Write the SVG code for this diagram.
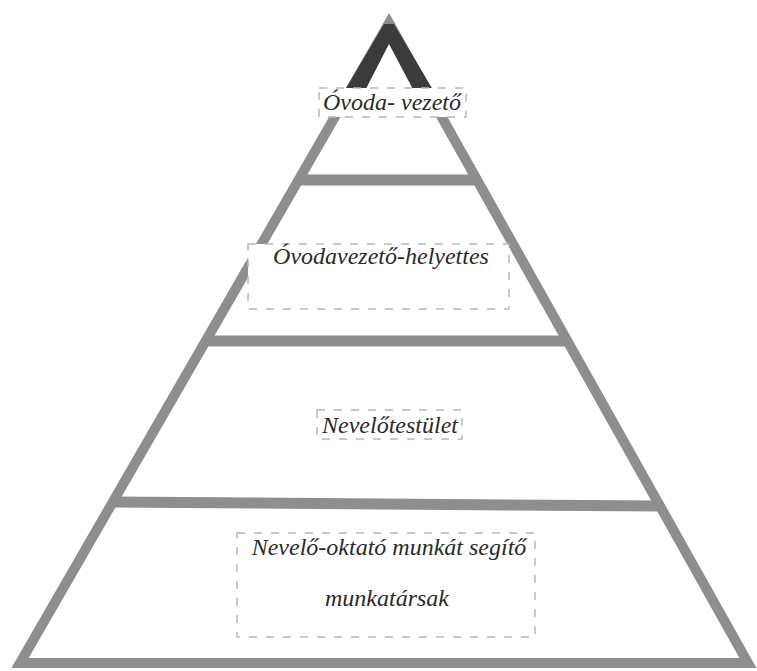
<svg xmlns="http://www.w3.org/2000/svg" width="757" height="671" viewBox="0 0 757 671">
<style>
.edge{fill:none;stroke:#8e8e8e;stroke-width:10;stroke-linejoin:miter;stroke-miterlimit:10}
.bar{stroke:#8e8e8e;stroke-width:11;stroke-linecap:butt}
.box{fill:#ffffff;stroke:#b8b8b8;stroke-width:1.5;stroke-dasharray:8 9}
.lbl{font-family:"Liberation Serif","Times New Roman",serif;font-style:italic;font-size:24px;fill:#2a2a2a;text-anchor:middle}
</style>
<rect width="757" height="671" fill="#ffffff"/>
<g id="connectors">
<polygon class="edge" points="389,23 748,663 20,663"/>
<line class="bar" x1="298" y1="180" x2="477" y2="180"/>
<line class="bar" x1="205" y1="341" x2="567" y2="341"/>
<line class="bar" x1="112" y1="502" x2="660" y2="506"/>
<polygon fill="#3b3b3b" points="332,112 384,24 394,24 446,112 425,112 389,44 354,112"/>
</g>
<g id="node-ovodavezeto">
<rect class="box" x="319" y="88" width="147" height="29"/>
<text class="lbl" x="392" y="110">Óvoda- vezető</text>
</g>
<g id="node-helyettes">
<rect class="box" x="248" y="244" width="261" height="65"/>
<text class="lbl" x="381" y="264">Óvodavezető-helyettes</text>
</g>
<g id="node-nevelotestulet">
<rect class="box" x="317" y="410" width="145" height="29"/>
<text class="lbl" x="390" y="433">Nevelőtestület</text>
</g>
<g id="node-munkatarsak">
<rect class="box" x="237" y="533" width="298" height="104"/>
<text class="lbl" x="389" y="555">Nevelő-oktató munkát segítő</text>
<text class="lbl" x="387" y="606">munkatársak</text>
</g>
</svg>
